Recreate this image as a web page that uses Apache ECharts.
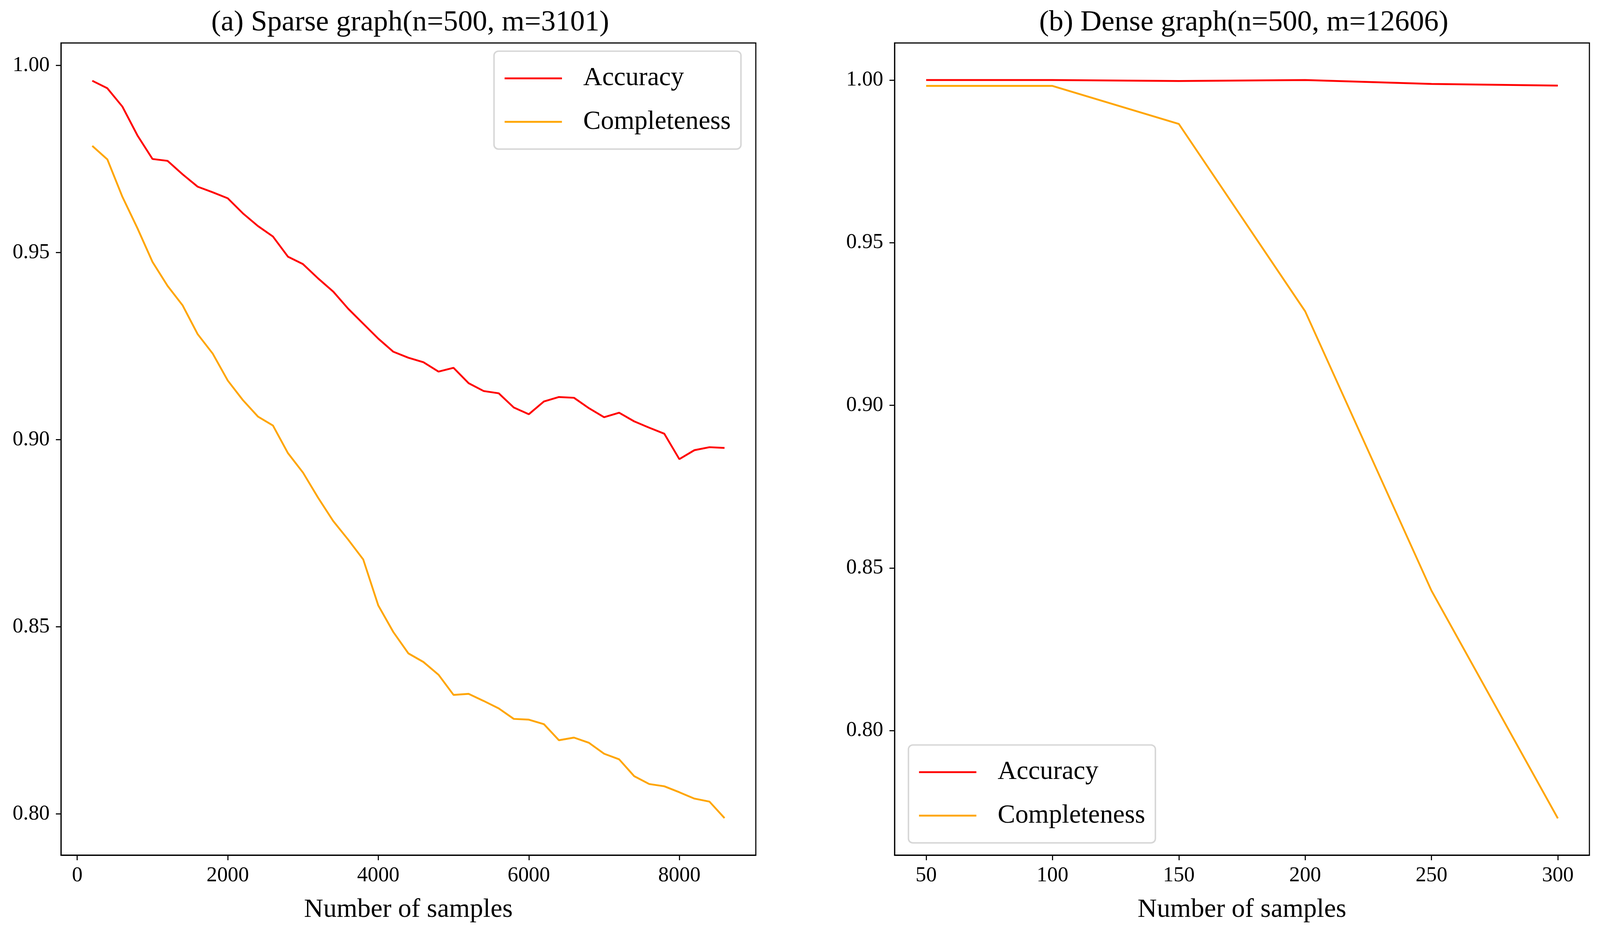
<!DOCTYPE html>
<html>

<head>
    <meta charset="utf-8">
    <script src="https://cdn.jsdelivr.net/npm/echarts/dist/echarts.min.js"></script>
    <title></title>
    <style>
        html, body {
            margin: 0;
            padding: 0;
            width: 100%;
            height: 100%;
            overflow: hidden;
            background: #fff;
        }

        #chart {
            width: 100vw;
            height: 100vh;
        }
    </style>
</head>

<body>
<div id="chart"></div>

<script>
    // (a) sparse graph
    var sparseSamples = [200, 400, 600, 800, 1000, 1200, 1400, 1600, 1800, 2000,
        2200, 2400, 2600, 2800, 3000, 3200, 3400, 3600, 3800, 4000,
        4200, 4400, 4600, 4800, 5000, 5200, 5400, 5600, 5800, 6000,
        6200, 6400, 6600, 6800, 7000, 7200, 7400, 7600, 7800, 8000,
        8200, 8400, 8600];
    var sparseAccuracy = [0.9959, 0.9939, 0.9890, 0.9813, 0.9750, 0.9745, 0.9709, 0.9676, 0.9661, 0.9645,
        0.9605, 0.9571, 0.9543, 0.9489, 0.9469, 0.9431, 0.9396, 0.9350, 0.9310, 0.9270,
        0.9235, 0.9219, 0.9207, 0.9182, 0.9192, 0.9151, 0.9130, 0.9124, 0.9086, 0.9068,
        0.9102, 0.9114, 0.9112, 0.9084, 0.9060, 0.9072, 0.9049, 0.9032, 0.9016, 0.8948,
        0.8972, 0.8980, 0.8978];
    var sparseCompleteness = [0.9785, 0.9749, 0.9649, 0.9565, 0.9475, 0.9411, 0.9359, 0.9282, 0.9230, 0.9158,
        0.9106, 0.9062, 0.9038, 0.8964, 0.8912, 0.8845, 0.8783, 0.8733, 0.8680, 0.8557,
        0.8486, 0.8429, 0.8406, 0.8372, 0.8318, 0.8321, 0.8302, 0.8282, 0.8254, 0.8252,
        0.8240, 0.8197, 0.8204, 0.8190, 0.8161, 0.8146, 0.8101, 0.8080, 0.8074, 0.8058,
        0.8041, 0.8033, 0.7989];

    // (b) dense graph
    var denseSamples = [50, 100, 150, 200, 250, 300];
    var denseAccuracy = [1.0000, 1.0000, 0.9997, 1.0000, 0.9988, 0.9983];
    var denseCompleteness = [0.9982, 0.9982, 0.9865, 0.9289, 0.8430, 0.7730];

    // tick labels
    var sparseXTicks = [0, 2000, 4000, 6000, 8000];
    var denseXTicks = [50, 100, 150, 200, 250, 300];
    var yTicks = [0.80, 0.85, 0.90, 0.95, 1.00];

    var titles = ['(a) Sparse graph(n=500, m=3101)', '(b) Dense graph(n=500, m=12606)'];
    var seriesNames = ['Accuracy', 'Completeness'];

    var FONT = '"Liberation Serif", "DejaVu Serif", serif';

    var dom = document.getElementById('chart');
    var myChart = echarts.init(dom);
    // layout was measured on a 4382x2396 canvas, scale it to whatever we got
    var sx = myChart.getWidth() / 4382;
    var sy = myChart.getHeight() / 2396;
    var s = Math.min(sx, sy);

    function pairs(xs, ys) {
        return xs.map(function (x, i) {
            return [x, ys[i]];
        });
    }

    function makeX(idx, min, max, ticks) {
        return {
            type: 'value',
            gridIndex: idx,
            min: min,
            max: max,
            name: 'Number of samples',
            nameLocation: 'middle',
            nameGap: 106 * sy,
            nameTextStyle: { fontFamily: FONT, fontSize: 73 * s, color: '#000' },
            splitLine: { show: false },
            axisLine: { show: true, onZero: false, lineStyle: { color: '#000', width: 3 * s } },
            axisTick: { show: true, length: 14 * s, lineStyle: { color: '#000', width: 3 * s }, customValues: ticks },
            axisLabel: {
                fontFamily: FONT, fontSize: 58 * s, color: '#000', margin: 26 * sy,
                customValues: ticks,
                formatter: function (v) { return String(v); }
            }
        };
    }

    function makeY(idx, min, max) {
        return {
            type: 'value',
            gridIndex: idx,
            min: min,
            max: max,
            splitLine: { show: false },
            axisLine: { show: true, onZero: false, lineStyle: { color: '#000', width: 3 * s } },
            axisTick: { show: true, length: 14 * s, lineStyle: { color: '#000', width: 3 * s }, customValues: yTicks },
            axisLabel: {
                fontFamily: FONT, fontSize: 58 * s, color: '#000', margin: 31 * sx,
                customValues: yTicks,
                formatter: function (v) { return v.toFixed(2); }
            }
        };
    }

    function makeLegend(left, top) {
        return {
            orient: 'vertical',
            left: left * sx,
            top: top * sy,
            data: seriesNames,
            icon: 'rect',
            itemWidth: 157 * s,
            itemHeight: 5 * s,
            itemGap: 44 * sy,
            padding: [36 * sy, 28 * s, 36 * sy, 29 * s],
            backgroundColor: '#fff',
            borderColor: '#d6d6d6',
            borderWidth: 4 * s,
            borderRadius: 12 * s,
            selectedMode: false,
            textStyle: {
                fontFamily: FONT, fontSize: 72 * s, lineHeight: 72 * s, color: '#000',
                padding: [0, 0, 0, 53 * s]
            }
        };
    }

    function makeLine(name, color, xi, data) {
        return {
            name: name,
            type: 'line',
            xAxisIndex: xi,
            yAxisIndex: xi,
            data: data,
            symbol: 'none',
            showSymbol: false,
            color: color,
            itemStyle: { color: color },
            lineStyle: { color: color, width: 5 * s },
            z: name === 'Accuracy' ? 3 : 2
        };
    }

    myChart.setOption({
        animation: false,
        backgroundColor: '#fff',
        title: [
            {
                text: titles[0], left: 1118 * sx, top: 16 * sy, textAlign: 'center',
                textStyle: { fontFamily: FONT, fontSize: 80 * s, fontWeight: 'normal', color: '#000' }
            },
            {
                text: titles[1], left: 3401 * sx, top: 16 * sy, textAlign: 'center',
                textStyle: { fontFamily: FONT, fontSize: 80 * s, fontWeight: 'normal', color: '#000' }
            }
        ],
        grid: [
            { left: 167 * sx, top: 110 * sy, width: 1903 * sx, height: 2079 * sy, show: true, borderColor: '#000', borderWidth: 3 * s },
            { left: 2450 * sx, top: 110 * sy, width: 1903 * sx, height: 2079 * sy, show: true, borderColor: '#000', borderWidth: 3 * s }
        ],
        xAxis: [
            makeX(0, -216, 9016, sparseXTicks),
            makeX(1, 37.5, 312.5, denseXTicks)
        ],
        yAxis: [
            makeY(0, 0.7890, 1.0060),
            makeY(1, 0.7617, 1.0114)
        ],
        legend: [
            makeLegend(1353, 131),
            makeLegend(2488, 1907)
        ],
        series: [
            makeLine('Accuracy', '#ff0000', 0, pairs(sparseSamples, sparseAccuracy)),
            makeLine('Completeness', '#ffa500', 0, pairs(sparseSamples, sparseCompleteness)),
            makeLine('Accuracy', '#ff0000', 1, pairs(denseSamples, denseAccuracy)),
            makeLine('Completeness', '#ffa500', 1, pairs(denseSamples, denseCompleteness))
        ]
    });

    window.onresize = function () {
        myChart.resize();
    };
</script>

</body>

</html>
